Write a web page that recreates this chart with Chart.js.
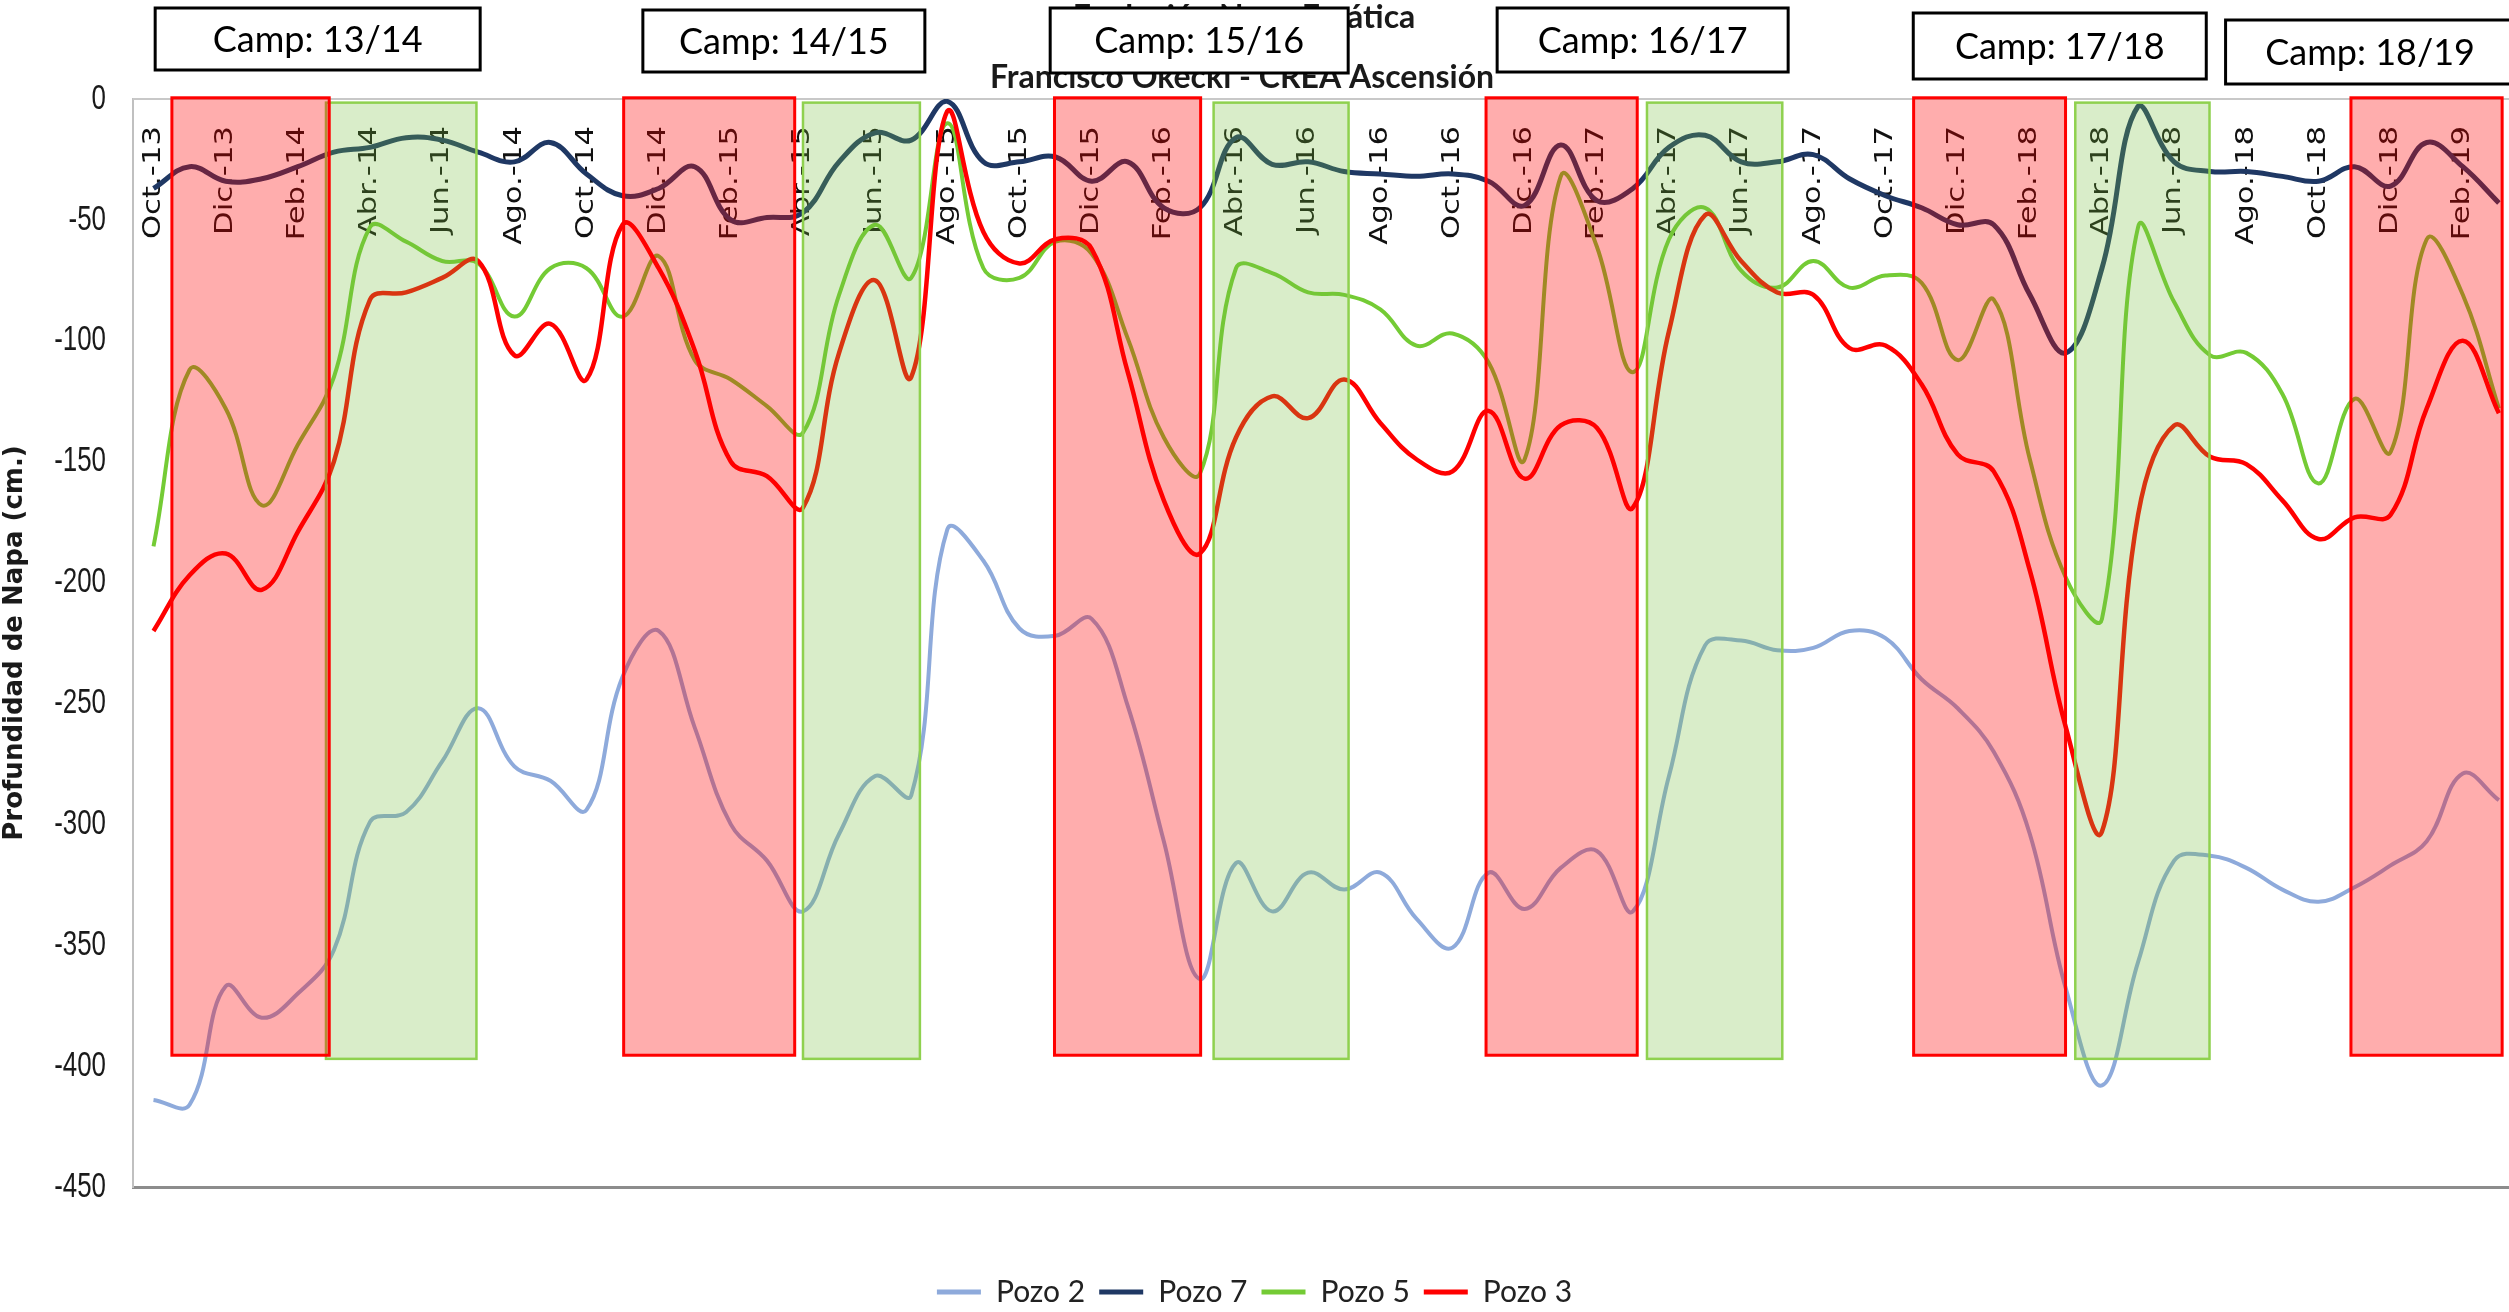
<!DOCTYPE html>
<html>
<head>
<meta charset="utf-8">
<title>Evolución Napa Freática</title>
<script src="https://cdn.jsdelivr.net/npm/chart.js@4.4.1/dist/chart.umd.min.js"></script>
<style>
  html, body { margin: 0; padding: 0; background: #fff; }
  #chart { display: block; }
</style>
</head>
<body>
<canvas id="chart" width="2509" height="1312"></canvas>
<script>
// Depth of the water table (cm) per month, Oct-13 .. Mar-19
const tickLabels = ['Oct.-13','Dic.-13','Feb.-14','Abr.-14','Jun.-14','Ago.-14','Oct.-14','Dic.-14','Feb.-15',
  'Abr.-15','Jun.-15','Ago.-15','Oct.-15','Dic.-15','Feb.-16','Abr.-16','Jun.-16','Ago.-16','Oct.-16',
  'Dic.-16','Feb.-17','Abr.-17','Jun.-17','Ago.-17','Oct.-17','Dic.-17','Feb.-18','Abr.-18','Jun.-18',
  'Ago.-18','Oct.-18','Dic.-18','Feb.-19'];

const pozo2 = [-414,-416,-367,-380,-370,-352,-299,-295,-274,-252,
  -276,-282,-294,-239,-220,-260,-300,-315,-336,-304,
  -280,-288,-178,-191,-219,-222,-215,-251,-307,-364,
  -316,-336,-320,-327,-320,-339,-351,-320,-335,-318,
  -311,-336,-280,-226,-224,-228,-227,-220,-223,-240,
  -252,-270,-304,-368,-408,-357,-315,-313,-318,-327,
  -332,-326,-317,-307,-279,-290];

const pozo7 = [-37,-28,-34,-33,-28,-22,-20,-16,-17,-22,
  -26,-18,-31,-40,-37,-28,-50,-49,-47,-26,
  -14,-17,-1,-26,-26,-24,-34,-26,-45,-45,
  -16,-27,-26,-30,-31,-32,-31,-34,-44,-19,
  -42,-37,-20,-15,-26,-26,-23,-33,-40,-45,
  -52,-52,-81,-105,-70,-3,-26,-30,-30,-32,
  -34,-28,-36,-18,-28,-43];

const pozo5 = [-185,-112,-128,-168,-143,-115,-53,-59,-67,-68,
  -90,-70,-70,-90,-65,-108,-116,-127,-138,-81,
  -52,-74,-10,-70,-74,-59,-64,-99,-140,-155,
  -70,-72,-80,-81,-87,-102,-97,-109,-149,-32,
  -61,-113,-58,-45,-71,-78,-67,-78,-73,-76,
  -108,-83,-149,-198,-215,-53,-84,-106,-105,-122,
  -159,-124,-146,-58,-81,-128];

const pozo3 = [-220,-197,-188,-203,-179,-150,-83,-80,-74,-67,
  -106,-93,-116,-52,-70,-104,-150,-156,-169,-105,
  -75,-115,-5,-55,-68,-58,-62,-113,-166,-188,
  -140,-123,-132,-116,-134,-149,-154,-129,-157,-135,
  -136,-169,-96,-48,-67,-80,-81,-103,-102,-118,
  -147,-154,-195,-260,-303,-172,-135,-148,-151,-166,
  -182,-173,-172,-128,-100,-130];

// Summer (red) and autumn (green) windows, in month index units
const summerStart = [0.51, 13.03, 24.97, 36.93, 48.78, 60.90];
const summerEnd   = [4.87, 17.77, 29.02, 41.12, 52.99, 65.09];
const autumnStart = [4.78, 18.00, 29.38, 41.39, 53.26];
const autumnEnd   = [8.95, 21.24, 33.12, 45.14, 56.98];

const campaigns = ['Camp: 13/14','Camp: 14/15','Camp: 15/16','Camp: 16/17','Camp: 17/18','Camp: 18/19'];

// label box layout: centre (month index), width and top/bottom in px
const campLayout = [
  { at: 4.55,  w: 325, top: 8,  bottom: 70 },
  { at: 17.47, w: 282, top: 10, bottom: 72 },
  { at: 28.98, w: 298, top: 8,  bottom: 73 },
  { at: 41.27, w: 291, top: 8,  bottom: 72 },
  { at: 52.83, w: 293, top: 13, bottom: 79 },
  { at: 61.43, w: 289, top: 20, bottom: 84 }
];

const SANS = "Lato, 'Open Sans', sans-serif";

const pts = arr => arr.map((v, i) => ({ x: i, y: v }));

const overlay = {
  id: 'overlay',
  beforeDatasetsDraw(chart) {
    const { ctx, chartArea: a, scales: { x, y } } = chart;
    ctx.save();
    // top frame line
    ctx.strokeStyle = '#c8c8c8';
    ctx.lineWidth = 2;
    ctx.beginPath();
    ctx.moveTo(a.left, a.top);
    ctx.lineTo(a.right, a.top);
    ctx.stroke();

    // y tick labels, narrow lettering
    ctx.fillStyle = '#1a1a1a';
    ctx.font = "35px 'Liberation Sans', Arial, sans-serif";
    ctx.textAlign = 'right';
    ctx.textBaseline = 'middle';
    y.ticks.forEach(t => {
      ctx.save();
      ctx.translate(a.left - 27, y.getPixelForValue(t.value));
      ctx.scale(0.74, 1);
      ctx.fillText(t.label, 0, 0);
      ctx.restore();
    });

    // month labels inside the plot, every second month
    ctx.fillStyle = '#111';
    ctx.font = "24px 'DejaVu Sans', sans-serif";
    tickLabels.forEach((lab, k) => {
      const px = x.getPixelForValue(k * 2);
      ctx.save();
      ctx.translate(px, 126);
      ctx.rotate(-Math.PI / 2);
      ctx.scale(1.28, 1);
      ctx.fillText(lab, 0, 0);
      ctx.restore();
    });
    ctx.restore();
  },
  afterDatasetsDraw(chart) {
    const { ctx, scales: { x, y } } = chart;
    ctx.save();

    const box = (x0, x1, top, bottom, fill, stroke, lw) => {
      const l = x.getPixelForValue(x0), r = x.getPixelForValue(x1);
      const t = y.getPixelForValue(top), b = y.getPixelForValue(bottom);
      ctx.fillStyle = fill;
      ctx.fillRect(l, t, r - l, b - t);
      ctx.strokeStyle = stroke;
      ctx.lineWidth = lw;
      ctx.strokeRect(l, t, r - l, b - t);
    };
    autumnStart.forEach((s, i) => box(s, autumnEnd[i], -1.5, -397, 'rgba(120,190,60,0.28)', '#8fd14f', 2.5));
    summerStart.forEach((s, i) => box(s, summerEnd[i], 0.5, -395.5, 'rgba(255,0,0,0.32)', '#ff0000', 3));

    // chart title (partly covered by the campaign boxes)
    ctx.fillStyle = '#1a1a1a';
    ctx.font = "bold 32px " + SANS;
    ctx.textAlign = 'center';
    ctx.textBaseline = 'alphabetic';
    ctx.fillText('Evolución Napa Freática', 1244, 28);
    ctx.fillText('Francisco Okecki - CREA Ascensión', 1242, 88);

    // campaign label boxes
    ctx.font = "36px " + SANS;
    ctx.textBaseline = 'middle';
    campaigns.forEach((txt, i) => {
      const c = campLayout[i];
      const cx = x.getPixelForValue(c.at);
      ctx.fillStyle = '#fff';
      ctx.fillRect(cx - c.w / 2, c.top, c.w, c.bottom - c.top);
      ctx.strokeStyle = '#000';
      ctx.lineWidth = 3;
      ctx.strokeRect(cx - c.w / 2, c.top, c.w, c.bottom - c.top);
      ctx.fillStyle = '#000';
      ctx.fillText(txt, cx, (c.top + c.bottom) / 2 + 1);
    });
    ctx.restore();
  }
};

new Chart(document.getElementById('chart'), {
  type: 'line',
  data: {
    datasets: [
      { label: 'Pozo 2', data: pts(pozo2), borderColor: '#8eaadb', backgroundColor: '#8eaadb', borderWidth: 4, order: 3 },
      { label: 'Pozo 7', data: pts(pozo7), borderColor: '#1f3864', backgroundColor: '#1f3864', borderWidth: 5, order: 2 },
      { label: 'Pozo 5', data: pts(pozo5), borderColor: '#74cb35', backgroundColor: '#74cb35', borderWidth: 4, order: 1 },
      { label: 'Pozo 3', data: pts(pozo3), borderColor: '#ff0000', backgroundColor: '#ff0000', borderWidth: 4.5, order: 0 }
    ]
  },
  options: {
    responsive: false,
    animation: false,
    elements: { point: { radius: 0 }, line: { tension: 0.4 } },
    layout: { padding: { top: 99, left: 0, right: 0, bottom: -5 } },
    scales: {
      x: {
        type: 'linear',
        min: -0.568,
        max: 65.28,
        grid: { display: false, drawTicks: false },
        border: { display: true, color: '#8c8c8c', width: 3 },
        ticks: { display: false },
        afterFit(scale) { scale.height = 76; }
      },
      y: {
        min: -450,
        max: 0,
        grid: { display: false, drawTicks: false },
        border: { display: true, color: '#c0c0c0', width: 2 },
        ticks: { stepSize: 50, display: false },
        title: {
          display: true,
          text: 'Profundidad de Napa (cm.)',
          color: '#1a1a1a',
          padding: 0,
          font: { family: "'DejaVu Sans', sans-serif", size: 26, weight: 'bold' }
        },
        afterFit(scale) { scale.width = 133; }
      }
    },
    plugins: {
      tooltip: { enabled: false },
      legend: {
        position: 'bottom',
        labels: {
          color: '#222',
          boxWidth: 44,
          boxHeight: 5,
          padding: 14,
          font: { family: SANS, size: 30 },
          generateLabels(chart) {
            return Chart.defaults.plugins.legend.labels.generateLabels(chart)
              .sort((a, b) => a.datasetIndex - b.datasetIndex)
              .map(item => Object.assign(item, { lineWidth: 0, fillStyle: item.strokeStyle }));
          }
        }
      }
    }
  },
  plugins: [overlay]
});
</script>
</body>
</html>
